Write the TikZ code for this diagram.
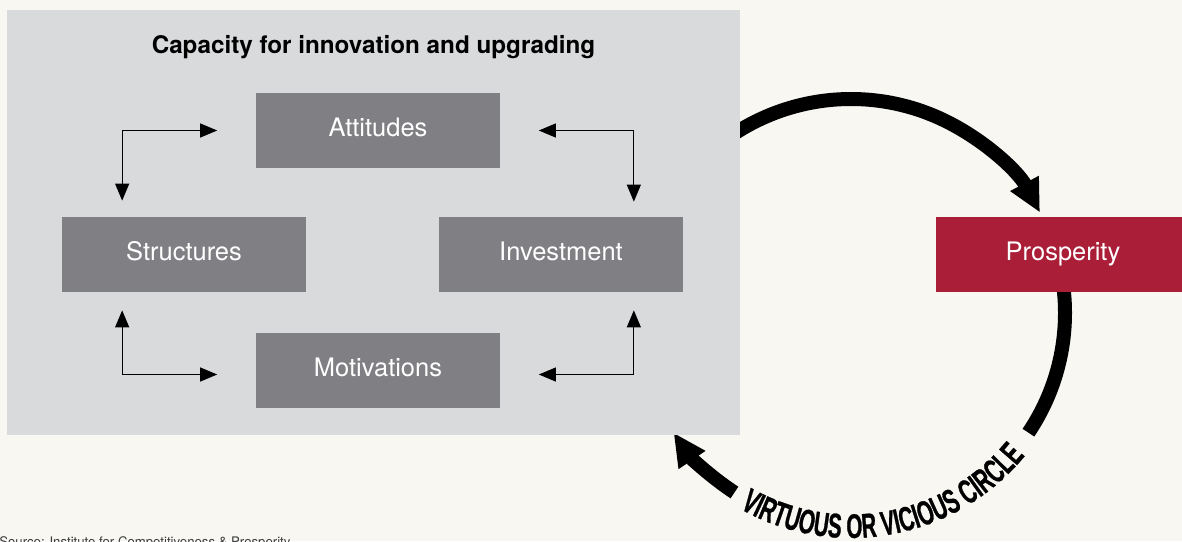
\documentclass[tikz,border=0pt]{standalone}
\usepackage{fontspec}
\setmainfont{TeX Gyre Heros}
\newfontfamily\circlefont[FakeStretch=0.6, FakeBold=0.8]{Liberation Sans Bold}
\usetikzlibrary{positioning, arrows.meta, decorations.text}
\definecolor{pageColor}{RGB}{248,247,242}
\definecolor{panelColor}{RGB}{217,218,220}
\definecolor{factorColor}{RGB}{128,128,132}
\definecolor{prosperityColor}{RGB}{170,30,56}
\definecolor{sourceColor}{RGB}{60,60,60}
\tikzstyle{pixels} = [x = 0.02cm, y = -0.02cm]
\tikzstyle{panelStyle} = [fill=panelColor, minimum width=14.66cm, minimum height=8.5cm, inner sep=0]
\tikzstyle{factorBox} = [fill=factorColor, text=white, minimum width=4.9cm, minimum height=1.5cm, inner sep=0, text height=.72em, text depth=0pt, font=\fontsize{14.5}{17}\selectfont]
\tikzstyle{prosperityBox} = [factorBox, fill=prosperityColor, minimum width=5.08cm]
\tikzstyle{titleText} = [font=\fontsize{13.8}{16}\selectfont\bfseries]
\tikzstyle{sourceText} = [anchor=base west, inner sep=0, text=sourceColor, font=\fontsize{7.5}{9}\selectfont]
\tikzstyle{loopArrow} = [{Triangle[length=.34cm, width=.28cm]}-{Triangle[length=.34cm, width=.28cm]}, line width=.6pt]
\tikzstyle{cycleBand} = [line width=.28cm]
\tikzstyle{cycleArrow} = [cycleBand, -{Triangle[length=.66cm, width=.6cm]}]
\newcommand{\circleFace}{\circlefont\fontsize{19.5}{19.5}\selectfont}
\newcommand{\cycleRadius}{214}

\begin{document}
\begin{tikzpicture}[pixels]
  \useasboundingbox[fill=pageColor] (0,0) rectangle (1182,541);

  % the big circle
  \coordinate (hub) at (851,313);
  \draw[cycleArrow] (hub) ++(-125:\cycleRadius) arc[start angle=-125, end angle=-28, radius=\cycleRadius];
  \draw[cycleBand] (hub) ++(-8:\cycleRadius) arc[start angle=-8, end angle=34, radius=\cycleRadius];
  \draw[cycleArrow] (hub) ++(123:\cycleRadius) arc[start angle=123, end angle=146, radius=\cycleRadius];
  \path[decorate, decoration={text along path, text align=center, text={|\circleFace|VIRTUOUS OR VICIOUS CIRCLE}}]
    (hub) ++(122:225) arc[start angle=122, end angle=37, radius=225];

  \node[panelStyle] (capacity) at (373.5,222.5) {};
  \node[titleText] (title) at (373.5,47) {Capacity for innovation and upgrading};

  \node[factorBox] (att) at (378,130.5) {Attitudes};
  \node[factorBox] (str) at (184,254.5) {Structures};
  \node[factorBox] (inv) at (561,254.5) {Investment};
  \node[factorBox] (mot) at (378,370.5) {Motivations};
  \node[prosperityBox] (pro) at (1063,254.5) {Prosperity};

  \draw[loopArrow] ([xshift=1.22cm, yshift=.32cm]str.north west) |- ([xshift=-.76cm]att.west);
  \draw[loopArrow] ([xshift=-1cm, yshift=.3cm]inv.north east) |- ([xshift=.76cm]att.east);
  \draw[loopArrow] ([xshift=1.22cm, yshift=-.36cm]str.south west) |- ([xshift=-.76cm, yshift=-.08cm]mot.west);
  \draw[loopArrow] ([xshift=-1cm, yshift=-.36cm]inv.south east) |- ([xshift=.76cm, yshift=-.08cm]mot.east);

  \node[sourceText] (source) at (-1,546) {Source: Institute for Competitiveness \& Prosperity};
\end{tikzpicture}
\end{document}
